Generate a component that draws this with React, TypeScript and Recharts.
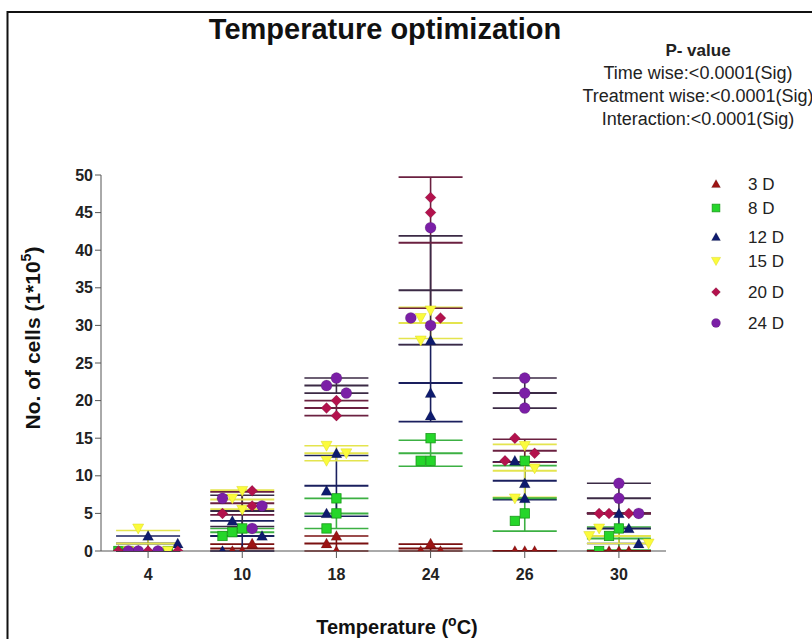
import React from "react"
import { ScatterChart, Scatter, XAxis, YAxis, ErrorBar } from "recharts"

if (typeof document !== "undefined") document.body.style.margin = "0"

// temperatures (°C) on the x axis
const temps = ["4", "10", "18", "24", "26", "30"]
const seriesNames = ["3 D", "8 D", "12 D", "15 D", "20 D", "24 D"]

// cell counts (1*10^5), three replicates per temperature
const day3 = [[0, 0, 0], [0, 0, 1], [2, 1, 0], [1, 0, 0], [0, 0, 0], [0, 0, 0]]
const day8 = [[0, 0, 0], [3, 2.5, 2], [7, 5, 3], [15, 12, 12], [12, 5, 4], [3, 2, 0]]
const day12 = [[2, 1, 0], [4, 2, 0], [13, 8, 5], [28, 21, 18], [12, 9, 7], [5, 3, 1]]
const day15 = [[3, 0, 0], [8, 7, 5.5], [14, 13, 12], [32, 31, 28], [14, 11, 7], [3, 2, 1]]
const day20 = [[0, 0, 0], [8, 6, 5], [20, 19, 18], [47, 45, 31], [15, 13, 12], [5, 5, 5]]
const day24 = [[0, 0, 0], [7, 6, 3], [23, 22, 21], [43, 31, 30], [23, 21, 19], [9, 7, 5]]

const yTicks = [0, 5, 10, 15, 20, 25, 30, 35, 40, 45, 50]

const allSeries = [day3, day8, day12, day15, day20, day24]

const styles = [
  { kind: "tri", fill: "#9c1414", bar: "#7a1010" },
  { kind: "square", fill: "#25d62a", bar: "#3cb043" },
  { kind: "tri", fill: "#0e1b6e", bar: "#1a1f5e" },
  { kind: "tridown", fill: "#fbfb3c", bar: "#e4e44e" },
  { kind: "diamond", fill: "#b3124d", bar: "#6b2040" },
  { kind: "circle", fill: "#7b1fa6", bar: "#3b2a45" },
]

const groupX = temps.map((_, i) => i + 0.5)
const STEP = 0.105

// simple beeswarm so overlapping points spread sideways
const offsets = [0, -1, 1, -2, 2, -3, 3]
const pointsBySeries: { x: number; y: number }[][] = allSeries.map(() => [])
temps.forEach((_, g) => {
  const taken: { o: number; y: number }[] = []
  allSeries.forEach((ser, s) => {
    ser[g].forEach((v) => {
      let pick = offsets.find((o) => !taken.some((t) => t.o === o && Math.abs(t.y - v) < 1.2))
      if (pick === undefined) pick = offsets[taken.length % offsets.length]
      taken.push({ o: pick, y: v })
      pointsBySeries[s].push({ x: groupX[g] + pick * STEP, y: v })
    })
  })
})

const meansBySeries = allSeries.map((ser) =>
  ser.map((vals, g) => {
    const m = vals.reduce((a, b) => a + b, 0) / vals.length
    const sd = Math.sqrt(vals.reduce((a, b) => a + (b - m) * (b - m), 0) / (vals.length - 1))
    return { x: groupX[g], y: m, err: [Math.min(sd, m), sd] }
  })
)

function Marker({ kind, cx, cy, fill, r = 5.5 }: any) {
  const stroke = "rgba(0,0,0,0.25)"
  if (kind === "tri")
    return <polygon points={`${cx},${cy - r} ${cx + r},${cy + r * 0.8} ${cx - r},${cy + r * 0.8}`} fill={fill} stroke={stroke} strokeWidth={0.5} />
  if (kind === "tridown")
    return <polygon points={`${cx - r},${cy - r * 0.8} ${cx + r},${cy - r * 0.8} ${cx},${cy + r}`} fill={fill} stroke="#d8d820" strokeWidth={0.5} />
  if (kind === "square")
    return <rect x={cx - r * 0.85} y={cy - r * 0.85} width={r * 1.7} height={r * 1.7} fill={fill} stroke="#1a9a1a" strokeWidth={0.8} />
  if (kind === "diamond")
    return <polygon points={`${cx},${cy - r} ${cx + r},${cy} ${cx},${cy + r} ${cx - r},${cy}`} fill={fill} stroke={stroke} strokeWidth={0.5} />
  return <circle cx={cx} cy={cy} r={r} fill={fill} stroke={stroke} strokeWidth={0.5} />
}

const font = "'Liberation Sans', Arial, sans-serif"

export default function App() {
  return (
    <div style={{ position: "relative", width: 812, height: 639, background: "#fff", overflow: "hidden" }}>
      <ScatterChart width={812} height={639} margin={{ top: 175, right: 146, bottom: 48, left: 0 }}>
        <XAxis
          type="number"
          dataKey="x"
          domain={[0, 6]}
          ticks={groupX}
          tickFormatter={(v: number) => temps[Math.round(v - 0.5)]}
          height={40}
          tickSize={7}
          tickMargin={11}
          stroke="#555"
          tick={{ fontSize: 16, fontWeight: "bold", fill: "#222", fontFamily: font }}
        />
        <YAxis
          type="number"
          dataKey="y"
          domain={[0, 50]}
          ticks={yTicks}
          width={101}
          tickSize={6}
          tickMargin={2}
          stroke="#555"
          allowDataOverflow
          tick={{ fontSize: 16, fontWeight: "bold", fill: "#222", fontFamily: font }}
        />
        {meansBySeries.map((data, s) => (
          <Scatter
            key={"m" + s}
            data={data}
            isAnimationActive={false}
            shape={(p: any) => (
              <line x1={p.cx - 32} x2={p.cx + 32} y1={p.cy} y2={p.cy} stroke={styles[s].bar} strokeWidth={2} />
            )}
          >
            <ErrorBar dataKey="err" direction="y" width={32} stroke={styles[s].bar} strokeWidth={1.6} />
          </Scatter>
        ))}
        {pointsBySeries.map((data, s) => (
          <Scatter
            key={"p" + s}
            name={seriesNames[s]}
            data={data}
            isAnimationActive={false}
            shape={(p: any) => <Marker kind={styles[s].kind} cx={p.cx} cy={p.cy} fill={styles[s].fill} />}
          />
        ))}
      </ScatterChart>
      <svg width={812} height={639} style={{ position: "absolute", left: 0, top: 0, pointerEvents: "none" }} fontFamily={font}>
        <path d="M7.5 639 V12 H812" fill="none" stroke="#111" strokeWidth={2} />
        <text x={385} y={39} textAnchor="middle" fontSize={29} fontWeight="bold" fill="#111">
          Temperature optimization
        </text>
        <text x={698} y={56} textAnchor="middle" fontSize={17} fontWeight="bold" fill="#222">P- value</text>
        <text x={698} y={79} textAnchor="middle" fontSize={18} fill="#222">Time wise:&lt;0.0001(Sig)</text>
        <text x={698} y={102} textAnchor="middle" fontSize={18} fill="#222">Treatment wise:&lt;0.0001(Sig)</text>
        <text x={698} y={125} textAnchor="middle" fontSize={18} fill="#222">Interaction:&lt;0.0001(Sig)</text>
        <text transform="translate(40,338) rotate(-90)" textAnchor="middle" fontSize={21} fontWeight="bold" fill="#111">
          No. of cells (1*10<tspan dy={-9} fontSize={14}>5</tspan><tspan dy={9}>)</tspan>
        </text>
        <text x={397} y={634} textAnchor="middle" fontSize={20} fontWeight="bold" fill="#111">
          Temperature (<tspan dy={-8} fontSize={14}>o</tspan><tspan dy={8}>C)</tspan>
        </text>
        {seriesNames.map((n, i) => {
          const y = [184, 208, 237, 261, 292, 323][i]
          return (
            <g key={n}>
              <Marker kind={styles[i].kind} cx={716} cy={y} fill={styles[i].fill} r={4.5} />
              <text x={748} y={y + 6} fontSize={17} fill="#222">{n}</text>
            </g>
          )
        })}
      </svg>
    </div>
  )
}
